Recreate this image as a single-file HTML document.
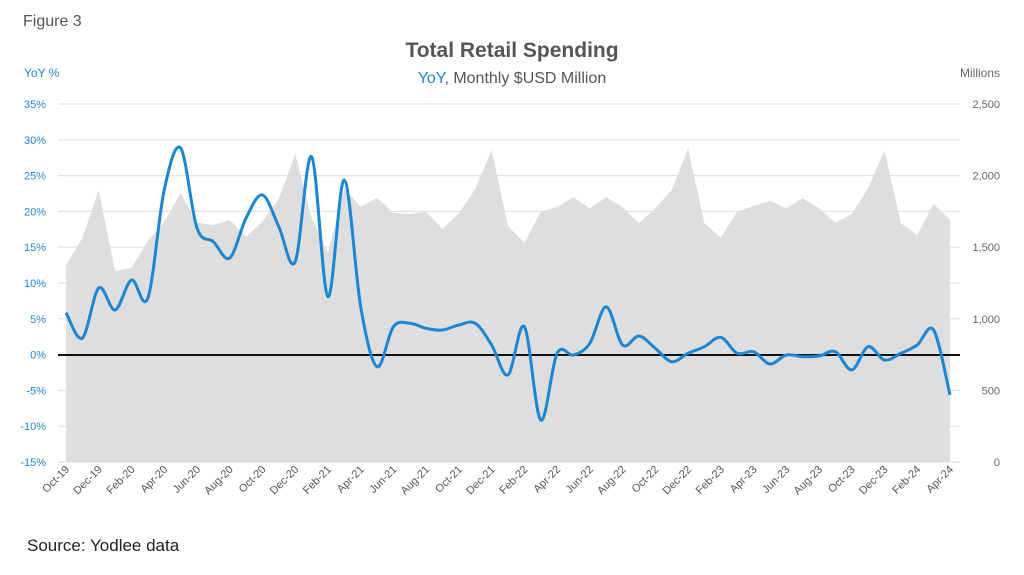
<!DOCTYPE html>
<html><head><meta charset="utf-8"><style>
body{margin:0;background:#fff;}
svg{display:block;font-family:"Liberation Sans",sans-serif;}
</style></head><body>
<svg id="s" width="1024" height="575" viewBox="0 0 1024 575">
<text x="23" y="26" font-size="16" fill="#555">Figure 3</text>
<text x="512" y="57" font-size="21" font-weight="bold" fill="#555" text-anchor="middle">Total Retail Spending</text>
<text x="512" y="83" font-size="16" fill="#555" text-anchor="middle"><tspan fill="#1e88d0">YoY</tspan>, Monthly $USD Million</text>
<text x="24" y="77" font-size="12" fill="#1e88d0">YoY %</text>
<text x="1000" y="77" font-size="12" fill="#666" text-anchor="end">Millions</text>
<g id="grid"></g>
<path id="area" fill="#dfdedf"/>
<g id="grid2"></g>
<line x1="58" x2="960" y1="355" y2="355" stroke="#111" stroke-width="2"/>
<path id="line" fill="none" stroke="#1a86d4" stroke-width="3" stroke-linejoin="round"/>
<g id="lab"></g>
<text x="27" y="551" font-size="17" fill="#222">Source: Yodlee data</text>
</svg>
<script>
var ns="http://www.w3.org/2000/svg";
function el(p,t,a,txt){var e=document.createElementNS(ns,t);for(var k in a)e.setAttribute(k,a[k]);if(txt!=null)e.textContent=txt;p.appendChild(e);return e;}
var g=document.getElementById('grid'),lab=document.getElementById('lab');
for(var i=0;i<=10;i++){var y=104+35.8*i;
 el(g,'line',{x1:58,x2:960,y1:y,y2:y,stroke:'#e2e2e2','stroke-width':1.2});
 el(lab,'text',{x:46,y:y+4,'font-size':11,fill:'#1e88d0','text-anchor':'end'},(35-5*i)+'%');
}
for(var i=0;i<=5;i++){var y=462-71.6*i;var v=500*i;
 el(lab,'text',{x:1000,y:y+4,'font-size':11,fill:'#666','text-anchor':'end'},v>=1000?(v/1000|0)+','+String(v%1000).padStart(3,'0'):v);}
var X=function(i){return 66+16.37*i;};
var A=[265,238,190,271,268,241,222,193,222.7,225,220,236.7,221.7,199,154,218,252.7,188,207,197.7,213,214,211.7,229,213,189,150,226,243,211.7,206.7,197.3,208.3,197.3,207.3,223.3,208.3,190,148.3,223.3,237.7,211.7,206,200.7,208.3,198.3,208.3,222.7,214,188.3,150.7,223.3,235,204,220];
var d='M'+X(0)+',462';A.forEach(function(v,i){d+='L'+X(i).toFixed(1)+','+v;});d+='L'+X(54)+',462Z';
document.getElementById('area').setAttribute('d',d);
var gg=document.getElementById('grid2');
el(gg,'line',{x1:58,x2:960,y1:462,y2:462,stroke:'#e2e2e2','stroke-width':1.2});
var L=[312.7,338,288,310,280,298,190,148,228,241.7,258,218,195,226.7,261.7,156.7,296.7,180,306.7,366.7,326.7,323.3,328.3,330,325,323.3,345,375,326.7,420,353.3,355,343.3,306.7,345,336,348.3,361.7,353.3,346.7,337.3,353.3,351.7,364,355,356.7,356,351.7,370,346.7,360,353.3,345,330,395];
var P=L.map(function(v,i){return [X(i),v];});
var s='M'+P[0][0]+','+P[0][1];
for(var i=0;i<P.length-1;i++){var p0=P[Math.max(0,i-1)],p1=P[i],p2=P[i+1],p3=P[Math.min(P.length-1,i+2)];
 var c1=[p1[0]+(p2[0]-p0[0])/6,p1[1]+(p2[1]-p0[1])/6],c2=[p2[0]-(p3[0]-p1[0])/6,p2[1]-(p3[1]-p1[1])/6];
 s+='C'+c1[0].toFixed(1)+','+c1[1].toFixed(1)+' '+c2[0].toFixed(1)+','+c2[1].toFixed(1)+' '+p2[0].toFixed(1)+','+p2[1];}
document.getElementById('line').setAttribute('d',s);
var M=['Jan','Feb','Mar','Apr','May','Jun','Jul','Aug','Sep','Oct','Nov','Dec'];
for(var i=0;i<=54;i+=2){var m=(9+i)%12,yr=19+Math.floor((9+i)/12);var x=X(i)+4,y=470;
 el(lab,'text',{x:x,y:y,'font-size':11,fill:'#555','text-anchor':'end',transform:'rotate(-45 '+x+' '+y+')'},M[m]+'-'+yr);}
</script>
</body></html>
